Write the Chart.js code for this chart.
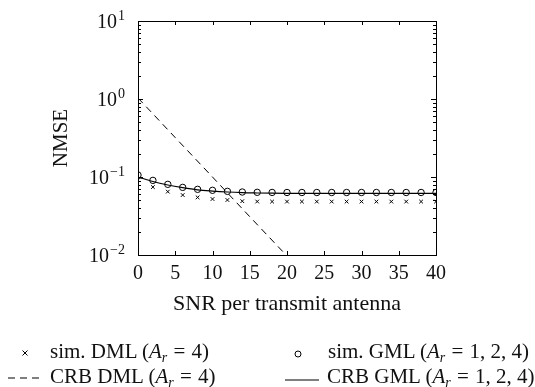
<!DOCTYPE html>
<html>
<head>
<meta charset="utf-8">
<script src="https://cdn.jsdelivr.net/npm/chart.js@4/dist/chart.umd.min.js"></script>
<style>
  html, body { margin: 0; padding: 0; background: #fff; }
  #wrap { position: relative; width: 535px; height: 387px; }
  #nmse-chart { position: absolute; left: 0; top: 0; }
  .lg { position: absolute; font-family: "Liberation Serif", "Times New Roman", serif; font-size: 21px; line-height: 22px; color: #111; white-space: nowrap; }
  .lg i { font-style: italic; }
  .lg sub { font-size: 14px; font-style: italic; vertical-align: -4px; line-height: 0; }
  .lg .eq { margin: 0 1px; }
  .sym { position: absolute; }
</style>
</head>
<body>
<div id="wrap">
  <canvas id="nmse-chart" width="535" height="387"></canvas>

  <svg class="sym" style="left:20px;top:348px" width="10" height="10">
    <path d="M2.5 2.5 L7.5 7.5 M7.5 2.5 L2.5 7.5" stroke="#000" stroke-width="1"/>
  </svg>
  <div class="lg" style="left:50px;top:340px">sim. DML (<i>A</i><sub>r</sub> <span class="eq">=</span> 4)</div>

  <svg class="sym" style="left:293px;top:349px" width="10" height="10">
    <circle cx="5" cy="5" r="3" fill="none" stroke="#000" stroke-width="1"/>
  </svg>
  <div class="lg" style="left:328px;top:340px">sim. GML (<i>A</i><sub>r</sub> <span class="eq">=</span> 1, 2, 4)</div>

  <svg class="sym" style="left:7px;top:373px" width="38" height="10">
    <line x1="1" y1="5" x2="37" y2="5" stroke="#000" stroke-width="1" stroke-dasharray="7,5"/>
  </svg>
  <div class="lg" style="left:50px;top:365px">CRB DML (<i>A</i><sub>r</sub> <span class="eq">=</span> 4)</div>

  <svg class="sym" style="left:284px;top:375px" width="36" height="10">
    <line x1="1" y1="5" x2="35" y2="5" stroke="#000" stroke-width="1.2"/>
  </svg>
  <div class="lg" style="left:327px;top:365px">CRB GML (<i>A</i><sub>r</sub> <span class="eq">=</span> 1, 2, 4)</div>
</div>

<script>
// SNR grid of the simulated points (dB)
var snr = [0, 2, 4, 6, 8, 10, 12, 14, 16, 18, 20, 22, 24, 26, 28, 30, 32, 34, 36, 38, 40];
var simDml = [0.0912, 0.0743, 0.0649, 0.0587, 0.0548, 0.0522, 0.0507, 0.0490, 0.0485, 0.0484, 0.0484,
              0.0484, 0.0484, 0.0484, 0.0484, 0.0484, 0.0484, 0.0484, 0.0484, 0.0484, 0.0484];
var simGml = [0.106, 0.0905, 0.0805, 0.0736, 0.0695, 0.0675, 0.0655, 0.0642, 0.0636, 0.0634, 0.0633,
              0.0633, 0.0633, 0.0633, 0.0633, 0.0633, 0.0633, 0.0633, 0.0633, 0.0633, 0.0633];
var crbGml = [0.100, 0.0875, 0.0790, 0.0730, 0.0685, 0.0660, 0.0642, 0.0630, 0.0624, 0.0620, 0.0618,
              0.0617, 0.0617, 0.0617, 0.0617, 0.0617, 0.0617, 0.0617, 0.0617, 0.0617, 0.0617];
// bound for DML falls off one decade per 10 dB
var snrCrbDml = [0, 5, 10, 15, 20];
var crbDml = [1.03, 0.32, 0.10, 0.031, 0.0097];

var yMajor = [0.01, 0.1, 1, 10];
var yExp = ['\u22122', '\u22121', '0', '1'];

var serif = '"Liberation Serif", "Times New Roman", serif';

function pts(xs, ys) {
    return xs.map(function (x, i) { return { x: x, y: ys[i] }; });
}

// box, inward ticks and the 10^n labels
var framePlugin = {
    id: 'frame',
    afterDraw: function (chart) {
        var ctx = chart.ctx, a = chart.chartArea;
        var xs = chart.scales.x, ys = chart.scales.y;
        ctx.save();
        ctx.strokeStyle = '#000';
        ctx.lineWidth = 1;
        ctx.strokeRect(Math.round(a.left) + 0.5, Math.round(a.top) + 0.5,
            Math.round(a.right - a.left), Math.round(a.bottom - a.top));

        ctx.beginPath();
        xs.ticks.forEach(function (t) {
            var px = Math.round(xs.getPixelForValue(t.value)) + 0.5;
            ctx.moveTo(px, a.bottom); ctx.lineTo(px, a.bottom - 4);
            ctx.moveTo(px, a.top); ctx.lineTo(px, a.top + 4);
        });
        for (var e = -2; e < 1; e++) {
            for (var m = 1; m <= 9; m++) {
                var v = m * Math.pow(10, e);
                var py = Math.round(ys.getPixelForValue(v)) + 0.5;
                var len = m === 1 ? 5 : 3;
                ctx.moveTo(a.left, py); ctx.lineTo(a.left + len, py);
                ctx.moveTo(a.right, py); ctx.lineTo(a.right - len, py);
            }
        }
        ctx.stroke();

        ctx.fillStyle = '#111';
        ctx.textBaseline = 'alphabetic';
        yMajor.forEach(function (v, i) {
            var py = ys.getPixelForValue(v);
            var right = a.left - 13;
            ctx.font = '14px ' + serif;
            var w = ctx.measureText(yExp[i]).width;
            ctx.textAlign = 'left';
            ctx.fillText(yExp[i], right - w, py - 1);
            ctx.font = '20px ' + serif;
            ctx.textAlign = 'right';
            ctx.fillText('10', right - w - 1, py + 7);
        });
        ctx.restore();
    }
};

var ctx = document.getElementById('nmse-chart');
var chart = new Chart(ctx, {
    type: 'line',
    data: {
        datasets: [{
            label: 'sim. DML',
            data: pts(snr, simDml),
            showLine: false,
            pointStyle: 'crossRot',
            pointRadius: 2.6,
            pointBorderWidth: 1,
            borderColor: '#000',
            backgroundColor: '#000'
        }, {
            label: 'sim. GML',
            data: pts(snr, simGml),
            showLine: false,
            pointStyle: 'circle',
            pointRadius: 3.2,
            pointBorderWidth: 1,
            borderColor: '#000',
            backgroundColor: 'rgba(0,0,0,0)'
        }, {
            label: 'CRB DML',
            data: pts(snrCrbDml, crbDml),
            borderColor: '#000',
            borderWidth: 1,
            borderDash: [7, 5],
            pointRadius: 0
        }, {
            label: 'CRB GML',
            data: pts(snr, crbGml),
            borderColor: '#000',
            borderWidth: 1.2,
            cubicInterpolationMode: 'monotone',
            pointRadius: 0
        }]
    },
    options: {
        responsive: false,
        animation: false,
        layout: { padding: { left: 0, top: 21, right: 99, bottom: 0 } },
        plugins: {
            legend: { display: false },
            tooltip: { enabled: false }
        },
        scales: {
            x: {
                type: 'linear',
                min: 0,
                max: 40,
                grid: { display: false, drawTicks: false },
                border: { display: false },
                ticks: {
                    stepSize: 5,
                    padding: 7,
                    color: '#111',
                    font: { family: serif, size: 20 }
                },
                title: {
                    display: true,
                    text: 'SNR per transmit antenna',
                    color: '#111',
                    font: { family: serif, size: 22 },
                    padding: { top: 0, bottom: 70 }
                },
                afterFit: function (s) { s.height = 132; }
            },
            y: {
                type: 'logarithmic',
                min: 0.01,
                max: 10,
                grid: { display: false, drawTicks: false },
                border: { display: false },
                ticks: { display: false },
                title: {
                    display: true,
                    text: 'NMSE',
                    color: '#111',
                    font: { family: serif, size: 21 },
                    padding: { top: 49, bottom: 0 }
                },
                afterFit: function (s) { s.width = 138; }
            }
        }
    },
    plugins: [framePlugin]
});
</script>
</body>
</html>
